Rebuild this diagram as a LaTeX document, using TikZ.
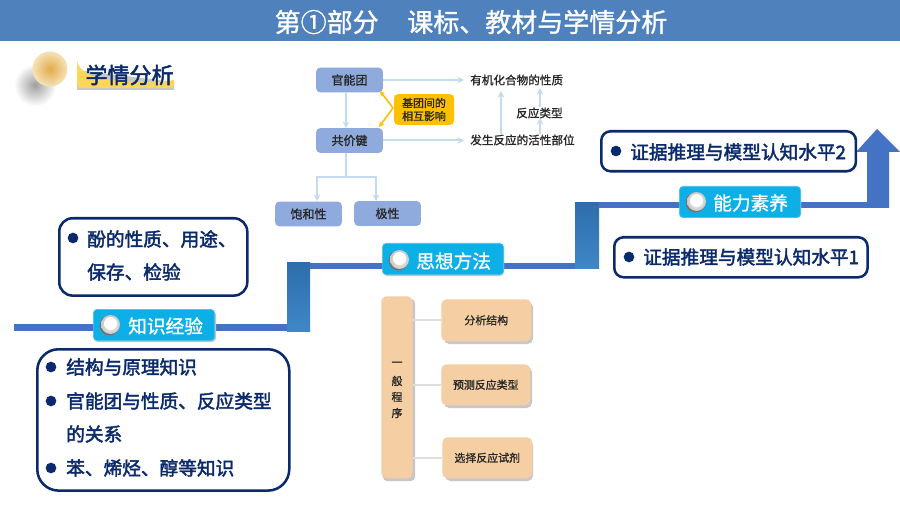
\documentclass[tikz,border=0pt]{standalone}
\usepackage{fontspec}
\setmainfont{Noto Sans CJK SC}
\newfontfamily\medf[FakeBold=1.2]{Noto Sans CJK SC}
\newfontfamily\strf[FakeBold=2.2]{Noto Sans CJK SC}
\usetikzlibrary{arrows.meta,positioning}
\definecolor{hdr}{HTML}{4F81BD}
\definecolor{navy}{HTML}{0B2A6B}
\definecolor{line}{HTML}{4472C4}
\definecolor{pill}{HTML}{0DB0E6}
\definecolor{lb}{HTML}{C5DBF0}
\definecolor{bluebox}{HTML}{8FAADC}
\definecolor{peach}{HTML}{F5CFA3}
\definecolor{amber}{HTML}{FFC000}
\definecolor{txt}{HTML}{262626}
\definecolor{risertop}{HTML}{2E6DAA}
\definecolor{riserbot}{HTML}{3F87C8}
\definecolor{goldin}{HTML}{E2AC48}
\definecolor{goldout}{HTML}{F6E2B9}
\definecolor{tagyellow}{HTML}{FFD65A}
\newcommand{\fs}[1]{\fontsize{#1}{#1}\selectfont}
\tikzset{
  x=0.75pt,y=-0.75pt,
  framebox/.style={draw=navy,line width=1.9pt,fill=white,rounded corners=10pt,inner sep=0pt,anchor=north west},
  lbl/.style={text=navy,font=\strf\fs{14},anchor=west,inner sep=0pt},
  dot/.style={circle,fill=navy,inner sep=0pt,minimum size=8pt},
  pillbox/.style={fill=pill,draw=pill!75!white,line width=.5pt,rounded corners=3pt,inner sep=0pt,anchor=north west,minimum width=91pt,minimum height=23.5pt},
  pilltext/.style={text=white,font=\medf\fs{14},inner sep=0pt,anchor=west},
  blue/.style={fill=bluebox,rounded corners=3pt,inner sep=0pt,minimum width=50pt,minimum height=18.5pt,text=txt,font=\medf\fs{9}},
  plain/.style={text=txt,font=\medf\fs{8.7},inner sep=0pt},
  lightarrow/.style={draw=lb,line width=1.5pt,-{Stealth[length=5pt,width=5pt]}},
  peachbox/.style={fill=peach,rounded corners=4pt,inner sep=0pt,text=txt,font=\medf\fs{8.2}},
  link/.style={draw=black!13,line width=1.2pt},
  orange/.style={draw=amber,line width=1.2pt,-{Stealth[length=4pt,width=4pt]}},
}
\newcommand{\ballicon}[2]{%
  \fill[black!55] (#1-.5,#2+.5) circle[radius=10];
  \shade[inner color=white,outer color=black!22] (#1+.5,#2-.5) circle[radius=9.5];
  \fill[white] (#1+.5,#2-1.5) circle[radius=6.5];
}
\begin{document}
\begin{tikzpicture}
\useasboundingbox (0,0) rectangle (900,506);
\fill[white] (0,0) rectangle (900,506);
% header
\fill[hdr] (0,0) rectangle (900,41);
\node[text=white,font=\medf\fs{19.5},inner sep=0pt] (title) at (471,22) {第①部分\hspace{1.1em}课标、教材与学情分析};
% badge
\shade[inner color=black!38,outer color=white] (35,85) circle[radius=21];
\shade[inner color=goldin,outer color=goldout] (50,69) circle[radius=17.5];
\fill[black!22] (77,70) -- (77,90) -- (174,90) -- (174,82) -- cycle;
\fill[tagyellow] (77,61) .. controls (80,72) and (90,78) .. (120,81) .. controls (145,83) and (165,82) .. (174,80) -- (174,85) -- (172,88) -- (79,88) -- (77,85) -- cycle;
\node[text=navy,font=\strf\fs{16.5},inner sep=0pt] (xq) at (129.5,75) {学情分析};
% timeline
\fill[line] (14,324) rectangle (288,331);
\shade[top color=risertop,bottom color=riserbot] (287,262) rectangle (310,331);
\fill[line] (310,263) rectangle (576,269);
\shade[top color=risertop,bottom color=riserbot] (575,203) rectangle (599,268);
\fill[line] (599,202) rectangle (867,208);
\fill[line] (867,208) -- (889,208) -- (889,152) -- (900,152) -- (877,129) -- (856,152) -- (867,152) -- cycle;
% frame boxes
\node[framebox,minimum width=141pt,minimum height=58pt] (a) at (58,217) {};
\node[dot] (ad) at (73,238) {};
\node[lbl] (a1) at (87,239) {酚的性质、用途、};
\node[lbl] (a2) at (87,272) {保存、检验};
\node[framebox,rounded corners=16pt,minimum width=189pt,minimum height=106pt] (b) at (36,348) {};
\node[dot] (bd1) at (51,367) {};
\node[dot] (bd2) at (51,401) {};
\node[dot] (bd3) at (51,468) {};
\node[lbl] (b1) at (66,367) {结构与原理知识};
\node[lbl] (b2) at (66,401) {官能团与性质、反应类型};
\node[lbl] (b3) at (66,434) {的关系};
\node[lbl] (b4) at (66,468) {苯、烯烃、醇等知识};
\node[framebox,rounded corners=7pt,minimum width=191pt,minimum height=30pt] (c) at (600,130) {};
\node[dot] (cd) at (616,151) {};
\node[lbl] (c1) at (630,152) {证据推理与模型认知水平2};
\node[framebox,rounded corners=7pt,minimum width=190pt,minimum height=30pt] (d) at (613,236) {};
\node[dot] (dd) at (629,257) {};
\node[lbl] (d1) at (643,257) {证据推理与模型认知水平1};
% pills
\fill[black!22,rounded corners=3pt] (94,311) rectangle (216,342);
\node[pillbox] (p1) at (93,309) {};
\ballicon{110}{325}
\node[pilltext] (p1t) at (128,326) {知识经验};
\fill[black!22,rounded corners=3pt] (383,245) rectangle (504,276);
\node[pillbox] (p2) at (382,243) {};
\ballicon{399}{260}
\node[pilltext] (p2t) at (416,261) {思想方法};
\fill[black!22,rounded corners=3pt] (680,188) rectangle (801,218);
\node[pillbox] (p3) at (679,186) {};
\ballicon{696}{202}
\node[pilltext] (p3t) at (713,203) {能力素养};
% concept map
\node[blue] (gn) at (349.5,80) {官能团};
\node[blue] (gj) at (349.5,140.5) {共价键};
\node[blue] (bh) at (308.5,214) {饱和性};
\node[blue] (jx) at (387.5,213.5) {极性};
\node[fill=amber,rounded corners=3pt,inner sep=0pt,minimum width=45pt,minimum height=23pt,align=center,text=txt,font=\medf\fontsize{8.2}{9.8}\selectfont] (jt) at (424,109.5) {基团间的\\相互影响};
\node[plain,anchor=west] (yj) at (470,80) {有机化合物的性质};
\node[plain,anchor=west] (fs) at (470,140) {发生反应的活性部位};
\node[plain,anchor=west] (fy) at (516,113) {反应类型};
\draw[lightarrow] (gn.east) -- (464,80);
\draw[lightarrow] (gj.east) -- (464,140.5);
\draw[lightarrow] (346,92) -- (346,128);
\coordinate (br) at (346,177);
\draw[lb,line width=1.5pt] (346,153) -- (br);
\draw[lightarrow] (346,177) -- (317,177) -- (317,201);
\draw[lightarrow] (346,177) -- (376,177) -- (376,201);
\draw[lightarrow] (501,134) -- (501,91);
\draw[lightarrow] (540,134) -- (540,118);
\draw[lightarrow] (540,107) -- (540,88);
\coordinate (mid) at (393,108);
\draw[orange] (mid) -- (380,91);
\draw[orange] (mid) -- (379,127);
% process
\fill[black!22,rounded corners=3pt] (383,299) rectangle (415,481);
\node[peachbox,anchor=north west,minimum width=23.5pt,minimum height=136.5pt] (yb) at (381,296) {};
\node[text=txt,font=\medf\fs{8.2},inner sep=0pt] (y1) at (397,364) {一};
\node[text=txt,font=\medf\fs{8.2},inner sep=0pt] (y2) at (397,381) {般};
\node[text=txt,font=\medf\fs{8.2},inner sep=0pt] (y3) at (397,397) {程};
\node[text=txt,font=\medf\fs{8.2},inner sep=0pt] (y4) at (397,413) {序};
\fill[black!22,rounded corners=4pt] (444,302) rectangle (533,344);
\fill[black!22,rounded corners=4pt] (444,367) rectangle (532,408);
\fill[black!22,rounded corners=4pt] (445,440) rectangle (533,481);
\node[peachbox,anchor=north west,minimum width=67.5pt,minimum height=31.5pt] (s1) at (441,299) {分析结构};
\node[peachbox,anchor=north west,minimum width=66.75pt,minimum height=30.75pt] (s2) at (441,364) {预测反应类型};
\node[peachbox,anchor=north west,minimum width=67.5pt,minimum height=30.75pt] (s3) at (442,437) {选择反应试剂};
\draw[link] (yb.east |- s1.west) -- (s1.west);
\draw[link] (yb.east |- s2.west) -- (s2.west);
\draw[link] (yb.east |- s3.west) -- (s3.west);
\end{tikzpicture}
\end{document}
